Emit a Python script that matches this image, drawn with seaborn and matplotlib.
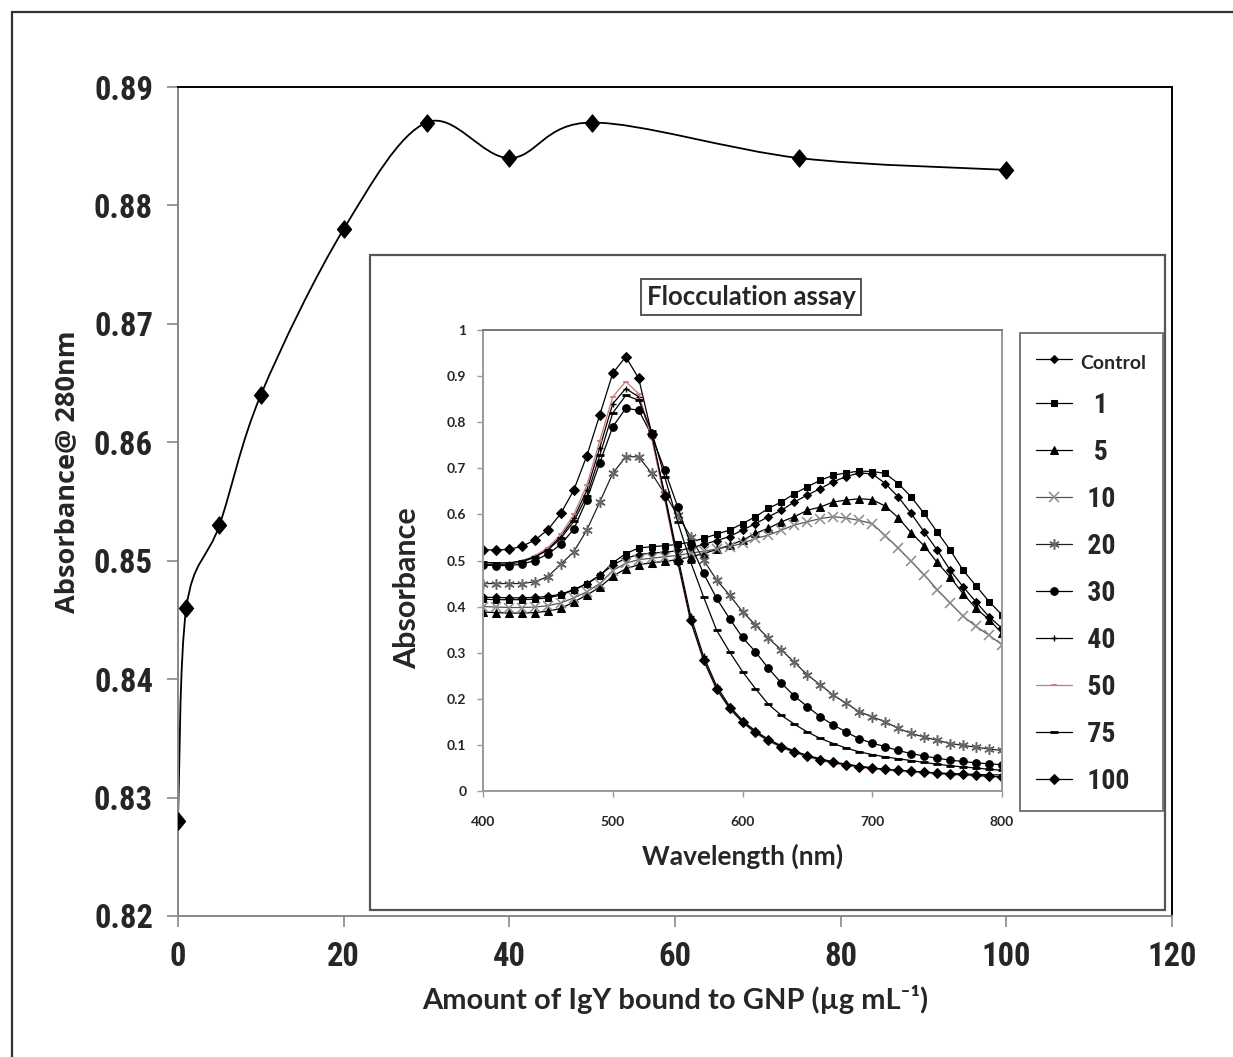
import numpy as np
import matplotlib
matplotlib.use("Agg")
import matplotlib.pyplot as plt
from matplotlib.path import Path
from matplotlib.patches import PathPatch, Rectangle
from matplotlib.lines import Line2D
import seaborn as sns

# ---------------- data ----------------
# IgY loading curve (absorbance at 280 nm)
igy_amount = [0, 1, 5, 10, 20, 30, 40, 50, 75, 100]
abs_280 = [0.828, 0.846, 0.853, 0.864, 0.878, 0.887, 0.884, 0.887, 0.884, 0.883]

# Flocculation assay spectra, 400-800 nm every 10 nm
wavelength = list(range(400, 801, 10))

spec_control = [0.420, 0.420, 0.419, 0.419, 0.420, 0.422, 0.427, 0.437, 0.450, 0.468,
                0.490, 0.505, 0.513, 0.516, 0.518, 0.521, 0.527, 0.535, 0.543, 0.552,
                0.566, 0.580, 0.595, 0.609, 0.627, 0.642, 0.656, 0.671, 0.682, 0.690,
                0.688, 0.667, 0.638, 0.602, 0.562, 0.523, 0.479, 0.443, 0.410, 0.378,
                0.353]
spec_1 = [0.416, 0.415, 0.415, 0.415, 0.416, 0.419, 0.425, 0.436, 0.449, 0.467,
          0.495, 0.515, 0.527, 0.530, 0.532, 0.535, 0.540, 0.548, 0.557, 0.566,
          0.580, 0.595, 0.613, 0.627, 0.645, 0.660, 0.674, 0.685, 0.690, 0.694,
          0.693, 0.689, 0.667, 0.638, 0.602, 0.562, 0.523, 0.479, 0.445, 0.411,
          0.382]
spec_5 = [0.388, 0.387, 0.386, 0.386, 0.387, 0.390, 0.396, 0.410, 0.425, 0.442,
          0.466, 0.482, 0.491, 0.495, 0.498, 0.502, 0.508, 0.515, 0.524, 0.533,
          0.544, 0.559, 0.570, 0.584, 0.595, 0.609, 0.616, 0.627, 0.631, 0.634,
          0.632, 0.618, 0.593, 0.560, 0.532, 0.496, 0.464, 0.428, 0.396, 0.372,
          0.342]
spec_10 = [0.400, 0.399, 0.398, 0.398, 0.399, 0.402, 0.408, 0.419, 0.432, 0.450,
           0.478, 0.494, 0.502, 0.505, 0.508, 0.511, 0.516, 0.520, 0.525, 0.530,
           0.537, 0.548, 0.555, 0.566, 0.577, 0.584, 0.591, 0.595, 0.592, 0.587,
           0.580, 0.554, 0.527, 0.498, 0.469, 0.437, 0.408, 0.379, 0.357, 0.338,
           0.317]
spec_20 = [0.450, 0.450, 0.450, 0.450, 0.454, 0.465, 0.492, 0.519, 0.566, 0.627,
           0.689, 0.725, 0.725, 0.689, 0.645, 0.598, 0.552, 0.501, 0.458, 0.425,
           0.389, 0.360, 0.331, 0.306, 0.279, 0.252, 0.230, 0.208, 0.190, 0.172,
           0.161, 0.150, 0.136, 0.125, 0.117, 0.110, 0.103, 0.099, 0.095, 0.091,
           0.088]
spec_30 = [0.490, 0.489, 0.489, 0.492, 0.500, 0.514, 0.535, 0.568, 0.632, 0.712,
           0.790, 0.830, 0.826, 0.772, 0.696, 0.617, 0.535, 0.472, 0.418, 0.374,
           0.333, 0.302, 0.266, 0.234, 0.206, 0.183, 0.161, 0.143, 0.128, 0.113,
           0.104, 0.096, 0.088, 0.081, 0.076, 0.071, 0.067, 0.064, 0.061, 0.059,
           0.057]
spec_40 = [0.492, 0.491, 0.492, 0.497, 0.507, 0.524, 0.552, 0.592, 0.652, 0.745,
           0.840, 0.873, 0.855, 0.768, 0.645, 0.510, 0.380, 0.292, 0.228, 0.184,
           0.153, 0.130, 0.112, 0.098, 0.087, 0.077, 0.070, 0.063, 0.058, 0.054,
           0.050, 0.047, 0.045, 0.043, 0.041, 0.039, 0.038, 0.037, 0.036, 0.035,
           0.035]
spec_50 = [0.494, 0.493, 0.494, 0.499, 0.510, 0.528, 0.557, 0.600, 0.663, 0.760,
           0.855, 0.888, 0.862, 0.765, 0.632, 0.495, 0.368, 0.282, 0.220, 0.178,
           0.148, 0.125, 0.108, 0.094, 0.083, 0.074, 0.066, 0.060, 0.055, 0.051,
           0.048, 0.045, 0.043, 0.041, 0.039, 0.037, 0.035, 0.034, 0.033, 0.032,
           0.031]
spec_75 = [0.496, 0.495, 0.495, 0.499, 0.508, 0.523, 0.548, 0.585, 0.640, 0.728,
           0.820, 0.858, 0.848, 0.780, 0.682, 0.584, 0.497, 0.421, 0.349, 0.302,
           0.259, 0.222, 0.188, 0.164, 0.145, 0.128, 0.114, 0.103, 0.093, 0.085,
           0.079, 0.074, 0.070, 0.066, 0.062, 0.058, 0.055, 0.052, 0.050, 0.047,
           0.045]
spec_100 = [0.523, 0.523, 0.524, 0.531, 0.544, 0.567, 0.602, 0.653, 0.727, 0.816,
            0.906, 0.942, 0.895, 0.775, 0.640, 0.500, 0.370, 0.285, 0.222, 0.180,
            0.150, 0.127, 0.110, 0.096, 0.085, 0.076, 0.068, 0.062, 0.057, 0.053,
            0.050, 0.047, 0.045, 0.043, 0.041, 0.039, 0.037, 0.036, 0.034, 0.032,
            0.030]

series_labels = ["Control", "1", "5", "10", "20", "30", "40", "50", "75", "100"]
series_values = [spec_control, spec_1, spec_5, spec_10, spec_20,
                 spec_30, spec_40, spec_50, spec_75, spec_100]

# ---------------- style ----------------
sns.set_style("white")
NARROW = ["Roboto Condensed", "Liberation Sans Narrow", "Liberation Sans", "DejaVu Sans"]
LABEL = ["Lato", "DejaVu Sans"]
plt.rcParams["font.family"] = LABEL

W, H = 1233, 1057
fig = plt.figure(figsize=(W / 100, H / 100), dpi=100)


def fx(px):
    return px / W


def fy(py):
    return 1 - py / H


# page border (left and top)
fig.add_artist(Line2D([fx(12), fx(12)], [fy(12), 0], color="#333333", lw=1.6))
fig.add_artist(Line2D([fx(12), 1], [fy(12), fy(12)], color="#333333", lw=1.6))

# ---------------- main chart ----------------
ax = fig.add_axes([fx(178), fy(916), fx(1172) - fx(178), fy(87) - fy(916)])
ax.set_xlim(0, 120)
ax.set_ylim(0.82, 0.89)

# smoothed connecting line (Bezier segments through the measured points)
pts = np.column_stack([igy_amount, abs_280]).astype(float)
ext = np.vstack([pts[0], pts, pts[-1]])
verts = [tuple(pts[0])]
codes = [Path.MOVETO]
for i in range(len(pts) - 1):
    p0, p1, p2, p3 = ext[i], ext[i + 1], ext[i + 2], ext[i + 3]
    c1 = p1 + (p2 - p0) / 6.0
    c2 = p2 - (p3 - p1) / 6.0
    verts += [tuple(c1), tuple(c2), tuple(p2)]
    codes += [Path.CURVE4, Path.CURVE4, Path.CURVE4]
ax.add_patch(PathPatch(Path(verts, codes), facecolor="none",
                       edgecolor="black", lw=1.3, zorder=2))

tall_diamond = Path([(0, 1), (0.82, 0), (0, -1), (-0.82, 0), (0, 1)],
                    [Path.MOVETO, Path.LINETO, Path.LINETO, Path.LINETO, Path.CLOSEPOLY])
sns.scatterplot(x=igy_amount, y=abs_280, ax=ax, marker=tall_diamond, s=150,
                color="black", edgecolor="black", zorder=3, legend=False)

ax.set_xticks(range(0, 121, 20))
ax.set_yticks(np.round(np.arange(0.82, 0.8901, 0.01), 2))
ax.set_yticklabels([f"{v:.2f}" for v in np.arange(0.82, 0.8901, 0.01)])
for lab in ax.get_xticklabels() + ax.get_yticklabels():
    lab.set_fontfamily(NARROW)
    lab.set_fontweight("bold")
    lab.set_fontsize(23.5)
ax.tick_params(axis="both", direction="out", length=8, width=1.2,
               color="#888888", pad=10, left=True, bottom=True)
for side in ["left", "bottom"]:
    ax.spines[side].set_color("#888888")
    ax.spines[side].set_linewidth(1.4)
for side in ["top", "right"]:
    ax.spines[side].set_color("black")
    ax.spines[side].set_linewidth(1.4)

ax.set_xlabel("Amount of IgY bound to GNP (\u00b5g mL\u207b\u00b9)",
              fontsize=21, fontweight="bold", family=LABEL)
ax.xaxis.set_label_coords(0.5, -0.083)
ax.set_ylabel("Absorbance@ 280nm", fontsize=19.5, fontweight="bold",
              family=["Open Sans", "DejaVu Sans"])
ax.yaxis.set_label_coords(-0.098, 0.536)

# ---------------- inset ----------------
frame = Rectangle((fx(370), fy(910)), fx(1165) - fx(370), fy(255) - fy(910),
                  transform=fig.transFigure, facecolor="white",
                  edgecolor="#555555", lw=1.6, zorder=5)
fig.add_artist(frame)

axin = fig.add_axes([fx(483), fy(791), fx(1002) - fx(483), fy(330) - fy(791)])
axin.set_zorder(6)

styles = {
    "Control": dict(marker="D", markersize=4, color="black", mfc="black", mec="black"),
    "1": dict(marker="s", markersize=4.5, color="black", mfc="black", mec="black"),
    "5": dict(marker="^", markersize=5.5, color="black", mfc="black", mec="black"),
    "10": dict(marker="x", markersize=6.5, color="#555555", mfc="#888888", mec="#8a8a8a", mew=1.1),
    "20": dict(marker=(6, 2, 0), markersize=7.5, color="#222222", mfc="#666666", mec="#666666", mew=1.1),
    "30": dict(marker="o", markersize=5.5, color="black", mfc="black", mec="black"),
    "40": dict(marker="+", markersize=5, color="black", mfc="black", mec="black", mew=1.0),
    "50": dict(marker="_", markersize=4, color="#c87878", mfc="#c87878", mec="#c87878", mew=1.2),
    "75": dict(marker="_", markersize=6, color="black", mfc="black", mec="black", mew=2.0),
    "100": dict(marker="D", markersize=5, color="black", mfc="black", mec="black"),
}

for lab, vals in zip(series_labels, series_values):
    st = styles[lab]
    sns.lineplot(x=wavelength, y=vals, ax=axin, lw=0.9, label=lab, **st)

axin.set_xlim(400, 800)
axin.set_ylim(0, 1)
axin.set_xticks(range(400, 801, 100))
axin.set_yticks(np.round(np.arange(0, 1.01, 0.1), 1))
axin.set_yticklabels(["0", "0.1", "0.2", "0.3", "0.4", "0.5", "0.6",
                      "0.7", "0.8", "0.9", "1"])
for lab in axin.get_xticklabels() + axin.get_yticklabels():
    lab.set_fontfamily(LABEL)
    lab.set_fontweight("bold")
    lab.set_fontsize(10)
axin.tick_params(axis="x", pad=14)
axin.tick_params(axis="y", pad=8)
axin.tick_params(axis="both", direction="out", length=4, width=1,
                 color="#999999", left=True, bottom=True)
for side in axin.spines:
    axin.spines[side].set_color("#999999")
    axin.spines[side].set_linewidth(1.4)
axin.spines["top"].set_color("#777777")
axin.set_xlabel("Wavelength (nm)", fontsize=19, fontweight="bold")
axin.xaxis.set_label_coords(0.5, -0.115)
axin.set_ylabel("Absorbance", fontsize=22, fontweight="bold")
axin.yaxis.set_label_coords(-0.12, 0.44)

fig.text(fx(751), fy(297), "Flocculation assay", fontsize=18.5, fontweight="bold",
         ha="center", va="center", zorder=7,
         bbox=dict(boxstyle="square,pad=0.22", facecolor="white",
                   edgecolor="#555555", lw=1.4))

handles, labels = axin.get_legend_handles_labels()
pretty = ["Control", "  1", "  5", " 10", " 20", " 30", " 40", " 50", " 75", " 100"]
leg = axin.legend(handles, pretty, loc="upper left",
                  bbox_to_anchor=(fx(1020), fy(333)),
                  bbox_transform=fig.transFigure, frameon=True, fancybox=False,
                  edgecolor="#555555", handlelength=1.3, handletextpad=0.3,
                  labelspacing=0.72, borderpad=0.58, borderaxespad=0,
                  prop={"family": NARROW, "weight": "bold", "size": 20})
leg.get_frame().set_linewidth(1.4)
leg.get_texts()[0].set_fontsize(14)
leg.get_texts()[0].set_fontfamily(LABEL)

fig.savefig("out.png", dpi=100)
